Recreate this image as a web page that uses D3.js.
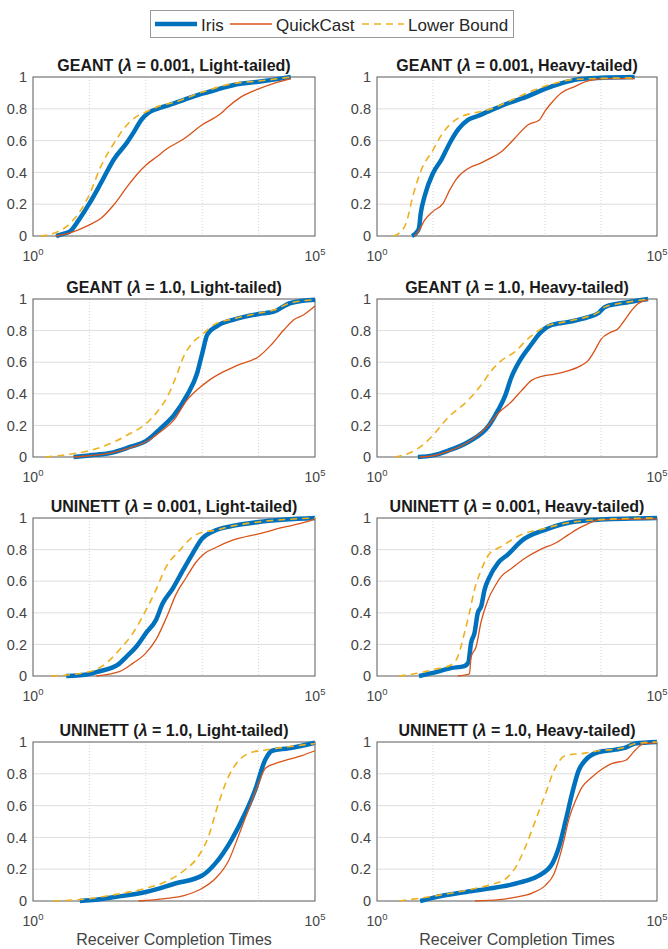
<!DOCTYPE html>
<html><head><meta charset="utf-8">
<script src="https://cdn.jsdelivr.net/npm/d3@7"></script>
<style>body{margin:0;background:#fff}svg{display:block}</style>
</head><body>
<svg id="c" width="668" height="949"></svg>
<script>
// ---------- labels ----------
const seriesNames = ["Iris", "QuickCast", "Lower Bound"];
const panelNets = ["GEANT", "GEANT", "GEANT", "GEANT", "UNINETT", "UNINETT", "UNINETT", "UNINETT"];
const panelLambdas = ["0.001", "0.001", "1.0", "1.0", "0.001", "0.001", "1.0", "1.0"];
const panelTails = ["Light-tailed", "Heavy-tailed", "Light-tailed", "Heavy-tailed", "Light-tailed", "Heavy-tailed", "Light-tailed", "Heavy-tailed"];
const yTicks = [0, 0.2, 0.4, 0.6, 0.8, 1];
const yTickLabels = ["0", "0.2", "0.4", "0.6", "0.8", "1"];
const xGridExp = [1, 2, 3, 4];
const xTickExp = [0, 5];
const xAxisLabel = "Receiver Completion Times";

// ---------- data: [log10(time), CDF] ----------
const geantL001LightIris = [[0.41,0],[0.55,0.015],[0.66,0.03],[0.81,0.1],[1.0,0.205],[1.2,0.33],[1.43,0.48],[1.67,0.59],[1.79,0.655],[1.92,0.73],[2.05,0.775],[2.2,0.8],[2.38,0.82],[2.7,0.86],[3.0,0.895],[3.3,0.925],[3.56,0.95],[4.0,0.97],[4.3,0.985],[4.57,1.0]];
const geantL001LightQC = [[0.4,0],[0.66,0.02],[1.0,0.07],[1.2,0.11],[1.43,0.195],[1.67,0.31],[1.85,0.39],[2.0,0.445],[2.2,0.5],[2.38,0.55],[2.67,0.61],[3.0,0.7],[3.33,0.77],[3.45,0.81],[3.69,0.875],[4.0,0.925],[4.27,0.96],[4.57,0.99]];
const geantL001LightLB = [[0.13,0],[0.37,0.017],[0.66,0.08],[1.0,0.26],[1.2,0.435],[1.43,0.58],[1.61,0.675],[1.79,0.74],[2.0,0.78],[2.26,0.82],[2.5,0.84],[3.0,0.905],[3.56,0.96],[4.0,0.975],[4.57,1.0]];

const geantL001HeavyIris = [[0.625,0],[0.7,0.02],[0.75,0.05],[0.78,0.14],[0.85,0.25],[1.0,0.395],[1.15,0.48],[1.3,0.585],[1.45,0.67],[1.625,0.73],[1.8,0.755],[2.0,0.785],[2.34,0.835],[2.7,0.88],[3.0,0.925],[3.29,0.96],[3.59,0.985],[4.0,0.995],[4.6,1.0]];
const geantL001HeavyQC = [[0.67,0],[0.76,0.04],[0.85,0.1],[1.0,0.155],[1.18,0.205],[1.3,0.29],[1.42,0.36],[1.63,0.425],[1.86,0.46],[2.0,0.485],[2.22,0.53],[2.46,0.615],[2.7,0.7],[2.9,0.73],[3.0,0.785],[3.11,0.835],[3.29,0.9],[3.53,0.94],[3.77,0.975],[4.12,0.99],[4.6,0.99]];
const geantL001HeavyLB = [[0.29,0],[0.4,0.02],[0.52,0.08],[0.64,0.25],[0.79,0.415],[1.0,0.54],[1.15,0.635],[1.3,0.7],[1.5,0.75],[1.74,0.775],[2.0,0.795],[2.34,0.845],[2.82,0.92],[3.17,0.96],[3.53,0.985],[4.6,0.995]];

const geantL1LightIris = [[0.72,0],[1.0,0.01],[1.37,0.025],[1.73,0.065],[2.0,0.1],[2.26,0.18],[2.5,0.265],[2.73,0.39],[2.91,0.53],[3.0,0.655],[3.09,0.775],[3.27,0.83],[3.56,0.87],[4.0,0.905],[4.27,0.92],[4.57,0.975],[5.0,0.995]];
const geantL1LightQC = [[0.72,0],[1.0,0.008],[1.37,0.025],[1.73,0.06],[2.0,0.095],[2.26,0.16],[2.5,0.235],[2.73,0.36],[2.91,0.425],[3.12,0.485],[3.38,0.54],[3.62,0.58],[4.0,0.635],[4.21,0.705],[4.45,0.805],[4.63,0.87],[4.8,0.9],[5.0,0.955]];
const geantL1LightLB = [[0.22,0],[0.6,0.015],[1.0,0.04],[1.37,0.085],[1.73,0.15],[2.0,0.21],[2.2,0.285],[2.38,0.38],[2.56,0.53],[2.67,0.635],[2.82,0.72],[3.0,0.775],[3.2,0.835],[3.56,0.875],[4.0,0.91],[4.27,0.93],[4.57,0.975],[5.0,0.995]];

const geantL1HeavyIris = [[0.73,0],[1.0,0.01],[1.27,0.04],[1.63,0.095],[2.0,0.2],[2.16,0.295],[2.28,0.38],[2.4,0.505],[2.55,0.61],[2.76,0.715],[2.9,0.78],[3.08,0.83],[3.43,0.855],[3.77,0.885],[3.95,0.91],[4.07,0.95],[4.3,0.97],[4.48,0.98],[4.84,1.0]];
const geantL1HeavyQC = [[0.76,0],[1.0,0.008],[1.27,0.035],[1.63,0.095],[2.0,0.205],[2.16,0.275],[2.4,0.35],[2.58,0.42],[2.76,0.485],[2.94,0.51],[3.17,0.525],[3.41,0.545],[3.65,0.58],[3.77,0.61],[3.89,0.675],[4.0,0.745],[4.18,0.79],[4.3,0.81],[4.42,0.865],[4.54,0.925],[4.66,0.97],[4.84,0.995]];
const geantL1HeavyLB = [[0.32,0],[0.61,0.03],[0.85,0.085],[1.03,0.15],[1.27,0.25],[1.63,0.36],[1.86,0.455],[2.04,0.545],[2.22,0.61],[2.46,0.665],[2.7,0.75],[2.88,0.8],[3.0,0.825],[3.43,0.86],[3.77,0.89],[3.95,0.915],[4.07,0.95],[4.3,0.97],[4.48,0.98],[4.84,1.0]];

const uninettL001LightIris = [[0.59,0],[1.0,0.013],[1.18,0.03],[1.5,0.07],[1.65,0.12],[1.83,0.185],[2.0,0.27],[2.18,0.355],[2.3,0.46],[2.48,0.555],[2.66,0.67],[2.83,0.775],[3.0,0.87],[3.19,0.915],[3.54,0.95],[4.0,0.975],[5.0,1.0]];
const uninettL001LightQC = [[1.12,0],[1.53,0.027],[1.77,0.08],[2.0,0.145],[2.18,0.23],[2.36,0.365],[2.54,0.52],[2.72,0.625],[2.89,0.72],[3.04,0.775],[3.25,0.815],[3.54,0.86],[4.0,0.9],[4.43,0.94],[4.84,0.975],[5.0,0.995]];
const uninettL001LightLB = [[0.32,0],[1.0,0.027],[1.36,0.1],[1.53,0.165],[1.77,0.27],[2.0,0.415],[2.18,0.545],[2.36,0.69],[2.6,0.795],[2.83,0.88],[3.0,0.91],[3.19,0.92],[3.54,0.95],[4.0,0.975],[5.0,1.0]];

const uninettL001HeavyIris = [[0.75,0],[1.0,0.02],[1.32,0.05],[1.56,0.063],[1.63,0.085],[1.68,0.21],[1.74,0.27],[1.8,0.4],[1.86,0.44],[1.92,0.545],[2.0,0.62],[2.16,0.715],[2.34,0.77],[2.58,0.855],[3.0,0.925],[3.42,0.97],[4.0,0.99],[5.0,1.0]];
const uninettL001HeavyQC = [[1.44,0],[1.65,0.013],[1.68,0.12],[1.77,0.185],[1.86,0.345],[1.98,0.48],[2.1,0.565],[2.22,0.63],[2.4,0.68],[2.64,0.745],[2.94,0.805],[3.18,0.84],[3.42,0.895],[3.66,0.945],[4.0,0.99],[5.0,0.995]];
const uninettL001HeavyLB = [[0.39,0],[0.72,0.017],[1.0,0.04],[1.32,0.07],[1.44,0.12],[1.56,0.27],[1.65,0.4],[1.74,0.545],[1.86,0.67],[2.0,0.77],[2.22,0.82],[2.58,0.895],[3.0,0.935],[3.42,0.97],[4.0,0.99],[5.0,1.0]];

const uninettL1LightIris = [[0.83,0],[1.0,0.004],[1.45,0.025],[2.0,0.057],[2.52,0.11],[3.0,0.16],[3.23,0.235],[3.52,0.385],[3.76,0.55],[3.94,0.7],[4.12,0.89],[4.24,0.945],[4.53,0.96],[5.0,0.995]];
const uninettL1LightQC = [[1.87,0],[2.34,0.015],[2.69,0.035],[3.0,0.08],[3.23,0.14],[3.47,0.255],[3.64,0.405],[3.82,0.575],[4.0,0.74],[4.12,0.835],[4.3,0.865],[4.53,0.89],[4.77,0.915],[5.0,0.945]];
const uninettL1LightLB = [[0.36,0],[1.0,0.015],[1.45,0.04],[2.0,0.08],[2.34,0.12],[2.69,0.195],[2.93,0.28],[3.11,0.405],[3.29,0.615],[3.47,0.785],[3.64,0.88],[3.88,0.935],[4.12,0.95],[4.53,0.97],[5.0,0.99]];

const uninettL1HeavyIris = [[0.77,0],[1.0,0.02],[1.59,0.057],[2.0,0.078],[2.36,0.1],[2.65,0.126],[2.89,0.16],[3.13,0.235],[3.25,0.34],[3.37,0.507],[3.49,0.685],[3.6,0.82],[3.72,0.885],[3.96,0.937],[4.26,0.952],[4.44,0.965],[4.61,0.99],[5.0,1.0]];
const uninettL1HeavyQC = [[1.75,0],[2.18,0.008],[2.48,0.025],[2.77,0.05],[3.01,0.1],[3.16,0.17],[3.31,0.34],[3.43,0.52],[3.55,0.635],[3.66,0.715],[3.84,0.78],[4.02,0.83],[4.2,0.865],[4.44,0.885],[4.61,0.948],[4.76,0.99],[5.0,0.995]];
const uninettL1HeavyLB = [[0.4,0],[1.0,0.03],[1.59,0.067],[2.0,0.1],[2.3,0.14],[2.48,0.215],[2.65,0.34],[2.83,0.507],[3.01,0.675],[3.16,0.82],[3.37,0.915],[3.72,0.93],[3.96,0.945],[4.26,0.955],[4.44,0.968],[4.61,0.99],[5.0,1.0]];

const panelData = [
  [geantL001LightIris, geantL001LightQC, geantL001LightLB],
  [geantL001HeavyIris, geantL001HeavyQC, geantL001HeavyLB],
  [geantL1LightIris, geantL1LightQC, geantL1LightLB],
  [geantL1HeavyIris, geantL1HeavyQC, geantL1HeavyLB],
  [uninettL001LightIris, uninettL001LightQC, uninettL001LightLB],
  [uninettL001HeavyIris, uninettL001HeavyQC, uninettL001HeavyLB],
  [uninettL1LightIris, uninettL1LightQC, uninettL1LightLB],
  [uninettL1HeavyIris, uninettL1HeavyQC, uninettL1HeavyLB]
];

// ---------- styles & layout ----------
const FONT = "'Liberation Sans', Arial, Helvetica, sans-serif";
const styles = [
  {color: "#0072BD", width: 4.5, dash: null},
  {color: "#D95319", width: 1.3, dash: null},
  {color: "#EDB120", width: 1.6, dash: "7,5"}
];
const colX = [[33, 315], [377, 657]];
const rowY = [[77, 236], [299, 457], [518, 676], [742, 901]];

const svg = d3.select("#c");
svg.append("rect").attr("width", 668).attr("height", 949).attr("fill", "#fff");

panelData.forEach((series, i) => {
  const r = Math.floor(i / 2), c = i % 2;
  const [x0, x1] = colX[c], [y0, y1] = rowY[r];
  const x = d3.scaleLog().domain([1, 1e5]).range([x0, x1]);
  const y = d3.scaleLinear().domain([0, 1]).range([y1, y0]);
  const g = svg.append("g");

  // grid
  g.selectAll(".hg").data(yTicks.slice(1, -1)).enter().append("line")
    .attr("x1", x0).attr("x2", x1).attr("y1", d => y(d)).attr("y2", d => y(d))
    .attr("stroke", "#dedede").attr("stroke-width", 1);
  g.selectAll(".vg").data(xGridExp).enter().append("line")
    .attr("x1", d => x(Math.pow(10, d))).attr("x2", d => x(Math.pow(10, d)))
    .attr("y1", y0).attr("y2", y1)
    .attr("stroke", "#d4d4d4").attr("stroke-width", 1).attr("stroke-dasharray", "1,2");

  // box
  g.append("rect").attr("x", x0).attr("y", y0).attr("width", x1 - x0).attr("height", y1 - y0)
    .attr("fill", "none").attr("stroke", "#5a5a5a").attr("stroke-width", 1);

  // y tick labels
  g.selectAll(".yl").data(yTicks).enter().append("text")
    .attr("x", x0 - 6).attr("y", d => y(d)).attr("dy", "0.36em")
    .attr("text-anchor", "end").attr("font-family", FONT).attr("font-size", 14.5)
    .attr("fill", "#444").text((d, k) => yTickLabels[k]);

  // x tick labels 10^0, 10^5
  xTickExp.forEach(e => {
    const t = g.append("text").attr("x", x(Math.pow(10, e))).attr("y", y1 + 25)
      .attr("text-anchor", "middle").attr("font-family", FONT).attr("font-size", 14).attr("fill", "#444");
    t.append("tspan").text("10");
    t.append("tspan").attr("dy", -6).attr("font-size", 9.5).text(String(e));
  });

  // lines
  const line = d3.line().x(d => x(Math.pow(10, d[0]))).y(d => y(d[1])).curve(d3.curveMonotoneX);
  series.forEach((s, k) => {
    const p = g.append("path").datum(s).attr("d", line).attr("fill", "none")
      .attr("stroke", styles[k].color).attr("stroke-width", styles[k].width)
      .attr("stroke-linejoin", "round");
    if (styles[k].dash) p.attr("stroke-dasharray", styles[k].dash);
  });

  // title
  const tt = g.append("text").attr("x", (x0 + x1) / 2).attr("y", y0 - 6.5)
    .attr("text-anchor", "middle").attr("font-family", FONT).attr("font-size", 16)
    .attr("font-weight", "bold").attr("fill", "#1a1a1a");
  tt.append("tspan").text(panelNets[i] + " (");
  tt.append("tspan").attr("font-style", "italic").text("λ");
  tt.append("tspan").text(" = " + panelLambdas[i] + ", " + panelTails[i] + ")");

  // x axis label on bottom row
  if (r === 3) {
    g.append("text").attr("x", (x0 + x1) / 2).attr("y", 945).attr("text-anchor", "middle")
      .attr("font-family", FONT).attr("font-size", 16).attr("fill", "#444").text(xAxisLabel);
  }
});

// legend
const lg = svg.append("g");
lg.append("rect").attr("x", 150.5).attr("y", 10.5).attr("width", 363).attr("height", 27)
  .attr("fill", "#fff").attr("stroke", "#999").attr("stroke-width", 1);
const legendX = [[155, 197, 201], [230, 272, 276], [362, 404, 408]];
seriesNames.forEach((n, k) => {
  const [a, b, t] = legendX[k];
  const l = lg.append("line").attr("x1", a).attr("x2", b).attr("y1", 24).attr("y2", 24)
    .attr("stroke", styles[k].color).attr("stroke-width", styles[k].width);
  if (styles[k].dash) l.attr("stroke-dasharray", styles[k].dash);
  lg.append("text").attr("x", t).attr("y", 30.5).attr("font-family", FONT).attr("font-size", 17)
    .attr("fill", "#262626").text(n);
});
</script>
</body></html>
